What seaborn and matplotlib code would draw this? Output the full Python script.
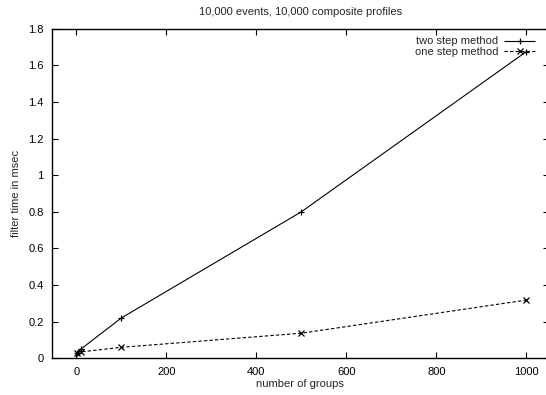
import matplotlib
matplotlib.use("Agg")
import matplotlib.pyplot as plt
import seaborn as sns
import pandas as pd

groups = [1, 10, 100, 500, 1000]
two_step = [0.03, 0.05, 0.22, 0.80, 1.675]
one_step = [0.03, 0.035, 0.06, 0.137, 0.318]
methods = ["two step method", "one step method"]
x_ticks = [0, 200, 400, 600, 800, 1000]
y_ticks = [0, 0.2, 0.4, 0.6, 0.8, 1.0, 1.2, 1.4, 1.6, 1.8]
y_tick_labels = ["0", "0.2", "0.4", "0.6", "0.8", "1", "1.2", "1.4", "1.6", "1.8"]

df = pd.DataFrame({
    "groups": groups * 2,
    "time": two_step + one_step,
    "method": [methods[0]] * len(groups) + [methods[1]] * len(groups),
})

sns.set_style("ticks")
plt.rcParams["font.family"] = ["Liberation Sans", "DejaVu Sans"]

fig = plt.figure(figsize=(5.46, 3.95), dpi=100)
ax = fig.add_axes([0.0952, 0.0929, 0.910, 0.8344])

sns.lineplot(
    data=df, x="groups", y="time", hue="method", style="method",
    hue_order=methods, style_order=methods,
    palette=["black", "black"],
    markers={methods[0]: "+", methods[1]: "x"},
    dashes={methods[0]: (1, 0), methods[1]: (3, 2)},
    markersize=5, markeredgewidth=0.9, markeredgecolor="black",
    linewidth=0.8, ax=ax, legend=True,
)

ax.set_xlim(-54, 1050)
ax.set_ylim(0, 1.8)
ax.set_xticks(x_ticks)
ax.set_yticks(y_ticks)
ax.set_yticklabels(y_tick_labels)
ax.tick_params(direction="in", length=4, width=0.8, labelsize=8,
               top=True, right=True, colors="black", pad=6)
for s in ax.spines.values():
    s.set_linewidth(1.0)
    s.set_color("black")
# right border falls past the canvas edge; only its inner ticks show
ax.spines["right"].set_visible(False)
ax.tick_params(axis="y", which="both", right=True)
for t in ax.yaxis.get_major_ticks():
    t.tick2line.set_color("#aaaaaa")

ax.set_xlabel("number of groups", fontsize=8, labelpad=2)
ax.set_ylabel("filter time in msec", fontsize=8, labelpad=5)
ax.set_title("10,000 events, 10,000 composite profiles", fontsize=8, pad=10)

handles, labels = ax.get_legend_handles_labels()
for h in handles:
    h.set_markeredgecolor("black")
    h.set_markeredgewidth(0.9)
ax.legend(handles, labels, loc="upper right", bbox_to_anchor=(0.988, 1.0),
          frameon=False, markerfirst=False, fontsize=8,
          handlelength=2.8, handletextpad=0.5, labelspacing=0.05,
          borderaxespad=0.3)

fig.savefig("out.png", dpi=100)
